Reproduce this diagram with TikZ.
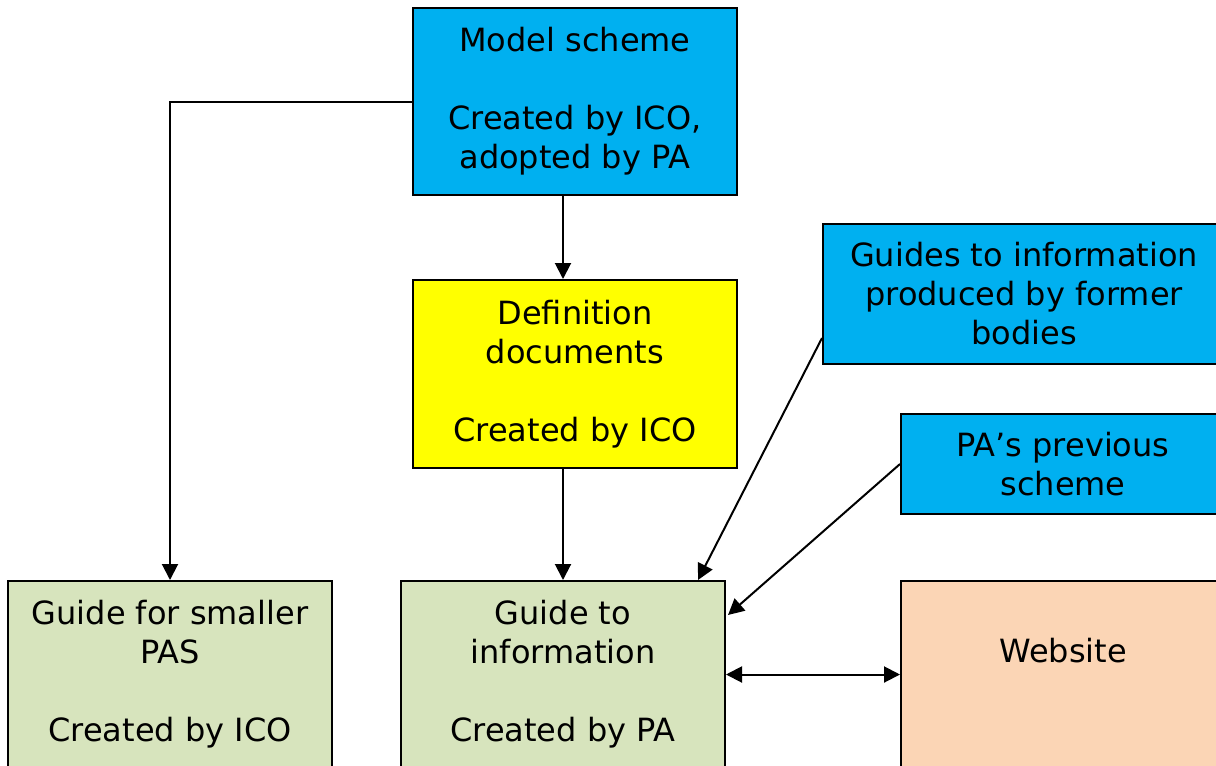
\documentclass[tikz,border=0pt]{standalone}
\usepackage{fontspec}
\setmainfont{DejaVu Sans}
\usetikzlibrary{arrows.meta, positioning, calc}

\begin{document}
\begin{tikzpicture}[x=0.5pt, y=-0.5pt,
    box/.style={draw, line width=1pt, minimum width=162pt, minimum height=93.5pt, align=center, inner sep=2pt,
      font=\fontsize{16}{19.5}\selectfont},
    arr/.style={line width=1pt, -{Triangle[length=8pt, width=8pt]}},
    dblarr/.style={line width=1pt, {Triangle[length=8pt, width=8pt]}-{Triangle[length=8pt, width=8pt]}}]
  \definecolor{icoblue}{HTML}{00B0F0}
  \definecolor{icoyellow}{HTML}{FFFF00}
  \definecolor{icogreen}{HTML}{D7E4BD}
  \definecolor{icopeach}{HTML}{FBD5B5}
  \useasboundingbox (0,0) rectangle (1216,766);
  \clip (0,0) rectangle (1216,766);

  % Top of the chain
  \node[box, fill=icoblue] (model) at (575,101.5) {Model scheme\\[19.5pt]Created by ICO,\\adopted by PA};
  \node[box, fill=icoyellow, minimum height=94pt] (def) at (575,374) {Definition\\documents\\[19.5pt]Created by ICO};

  % Other sources
  \node[box, fill=icoblue, minimum width=201pt, minimum height=70pt] (former) at (1024,294) {Guides to information\\produced by former\\bodies};
  \node[box, fill=icoblue, minimum height=50pt] (prev) at (1063,464) {PA’s previous\\scheme};

  % Bottom row
  \node[box, fill=icogreen] (smaller) at (170,674.5) {Guide for smaller\\PAS\\[19.5pt]Created by ICO};
  \node[box, fill=icogreen] (info) at (563,674.5) {Guide to\\information\\[19.5pt]Created by PA};
  \node[box, fill=icopeach] (web) at (1063,674.5) {\strut\\Website\\[19.5pt]\strut};

  % Connectors
  \draw[arr] (model.west) -| (smaller.north);
  \draw[arr] (model.south -| info.north) -- (def.north -| info.north);
  \draw[arr] (def.south -| info.north) -- (info.north);
  \draw[arr] ($(former.south west)!0.19!(former.north west)$) -- ($(info.north east)+(-28,0)$);
  \draw[arr] (prev.west) -- ($(info.north east)+(2,35)$);
  \draw[dblarr] (info.east) -- (web.west);
\end{tikzpicture}
\end{document}
